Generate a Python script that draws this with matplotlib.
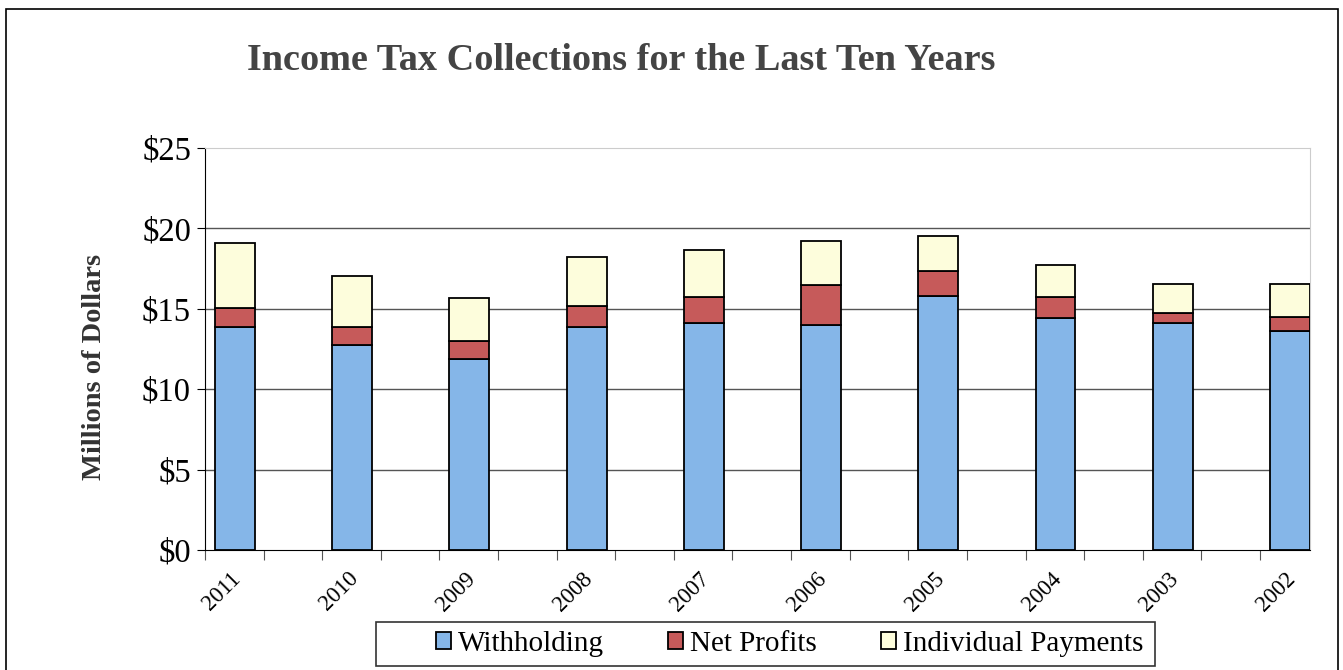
import matplotlib
matplotlib.use("Agg")
import matplotlib.pyplot as plt
import matplotlib.transforms as mtransforms
from matplotlib.patches import Rectangle

# data (millions of dollars)
years = ["2011", "2010", "2009", "2008", "2007", "2006", "2005", "2004", "2003", "2002"]
withholding = [13.85, 12.75, 11.86, 13.85, 14.10, 13.99, 15.82, 14.45, 14.10, 13.64]
net_profits = [1.18, 1.10, 1.14, 1.35, 1.61, 2.49, 1.53, 1.26, 0.62, 0.87]
individual = [4.04, 3.19, 2.69, 3.00, 2.95, 2.74, 2.18, 1.99, 1.84, 2.01]
y_ticks = [0, 5, 10, 15, 20, 25]

plt.rcParams['font.family'] = ['Liberation Serif', 'DejaVu Serif']

fig = plt.figure(figsize=(13.43, 6.70), dpi=100)
ax = fig.add_axes([0.1526, 0.1791, 0.8228, 0.6])

x = list(range(len(years)))
w = 0.34
base2 = [a + b for a, b in zip(withholding, net_profits)]
ax.bar(x, withholding, w, color='#85b6e8', edgecolor='black', linewidth=1.3,
       label='Withholding', zorder=3)
ax.bar(x, net_profits, w, bottom=withholding, color='#c65a5a', edgecolor='black',
       linewidth=1.3, label='Net Profits', zorder=3)
ax.bar(x, individual, w, bottom=base2, color='#fdfddc', edgecolor='black',
       linewidth=1.3, label='Individual Payments', zorder=3)

x0 = -0.256
ax.set_xlim(x0, 9.17)
ax.set_ylim(0, 25)
ax.set_yticks(y_ticks)
ax.set_yticklabels(['$%d' % v for v in y_ticks], fontsize=23.5)
ax.set_xticks(x)
ax.set_xticklabels(years, rotation=45, fontsize=16.5, ha='right')
ax.tick_params(axis='x', which='major', length=0, pad=13)
ax.set_xticks([x0 + 0.5 * k for k in range(19)], minor=True)
ax.tick_params(axis='x', which='minor', length=7, width=0.8, color='#555555')
ax.tick_params(axis='y', length=6, direction='out', pad=4)

# nudge the year labels right
shift = mtransforms.ScaledTranslation(0.1, 0, fig.dpi_scale_trans)
for lab in ax.get_xticklabels():
    lab.set_transform(lab.get_transform() + shift)

for v in y_ticks[1:-1]:
    ax.axhline(v, color='#555555', linewidth=1.0, zorder=1)
ax.spines['top'].set_color('#cccccc')
ax.spines['right'].set_color('#cccccc')
ax.spines['left'].set_color('black')
ax.spines['bottom'].set_color('black')

ax.set_ylabel('Millions of Dollars', fontsize=20.5, fontweight='bold', color='#333333',
              va='center')
ax.yaxis.set_label_coords(-0.0995, 0.455)

fig.text(0.4624, 0.91, 'Income Tax Collections for the Last Ten Years', fontsize=27.5,
         fontweight='bold', color='#444444', ha='center', va='center')

leg = fig.legend(loc='center', bbox_to_anchor=(0.588, 0.0388), ncol=3, fontsize=21,
                 frameon=False, handlelength=0.5, handleheight=0.5,
                 handletextpad=0.25, columnspacing=2.2, borderpad=0, borderaxespad=0)
# legend box
fig.patches.append(Rectangle((376 / 1343, 4 / 670), 779 / 1343, 44 / 670,
                             transform=fig.transFigure, fill=False,
                             edgecolor='#333333', linewidth=1.2))

# outer chart border
fig.patches.append(Rectangle((0.0045, -0.05), 0.9915, 1.037, transform=fig.transFigure,
                             fill=False, edgecolor='black', linewidth=1.2))

fig.savefig('out.png', dpi=100)
